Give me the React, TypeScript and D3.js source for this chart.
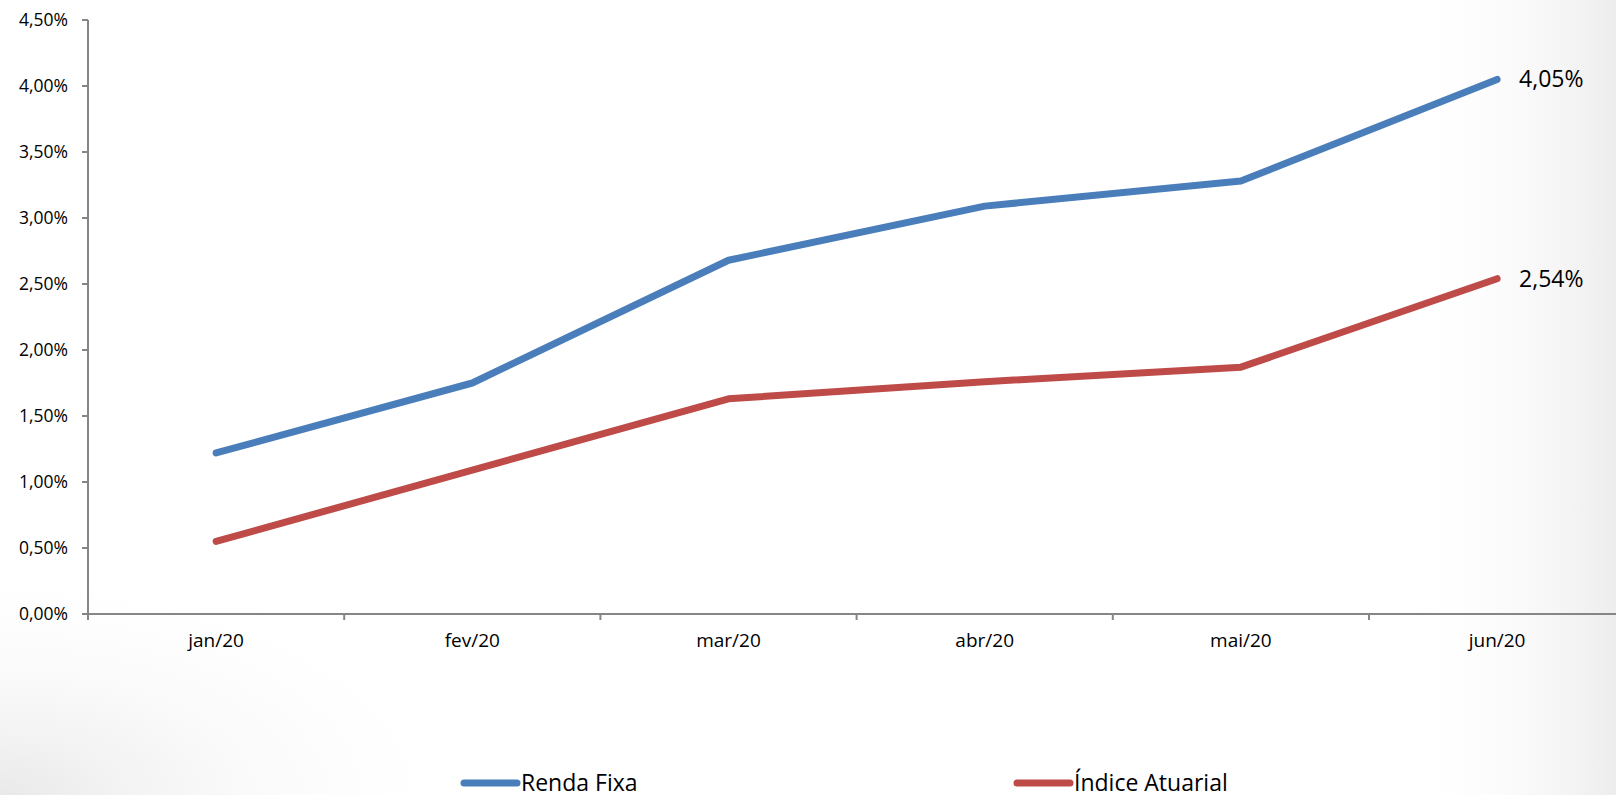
import React, { useEffect, useRef } from "react";
import * as d3 from "d3";

const months = ["jan/20", "fev/20", "mar/20", "abr/20", "mai/20", "jun/20"];
const rendaFixa = [1.22, 1.75, 2.68, 3.09, 3.28, 4.05];
const indiceAtuarial = [0.55, 1.09, 1.63, 1.76, 1.87, 2.54];
const yTicks = [0, 0.5, 1, 1.5, 2, 2.5, 3, 3.5, 4, 4.5];
const seriesNames = ["Renda Fixa", "Índice Atuarial"];
const seriesColors = ["#4a7ebb", "#be4b48"];

const W = 1616;
const H = 795;
const FONT = "'Open Sans', sans-serif";

export default function App() {
  const ref = useRef<SVGSVGElement>(null);

  useEffect(() => {
    const svg = d3.select(ref.current);
    svg.selectAll("*").remove();

    const defs = svg.append("defs");
    const g1 = defs.append("radialGradient").attr("id", "bgBL").attr("cx", 0).attr("cy", 1).attr("r", 0.3);
    g1.append("stop").attr("offset", 0).attr("stop-color", "#e9e9e9");
    g1.append("stop").attr("offset", 1).attr("stop-color", "#ffffff").attr("stop-opacity", 0);
    const g2 = defs.append("linearGradient").attr("id", "bgR").attr("x1", 0).attr("x2", 1).attr("y1", 0).attr("y2", 0);
    g2.append("stop").attr("offset", 0.87).attr("stop-color", "#ffffff").attr("stop-opacity", 0);
    g2.append("stop").attr("offset", 1).attr("stop-color", "#ededed").attr("stop-opacity", 1);

    svg.append("rect").attr("width", W).attr("height", H).attr("fill", "#ffffff");
    svg.append("rect").attr("width", W).attr("height", H).attr("fill", "url(#bgBL)");
    svg.append("rect").attr("width", W).attr("height", H).attr("fill", "url(#bgR)");

    const left = 88;
    const step = 256.2;
    const x = d3.scaleBand<string>().domain(months).range([left, left + step * months.length]);
    const y = d3.scaleLinear().domain([0, 4.5]).range([614, 20]);
    const axisColor = "#868686";

    // y axis
    const yAxis = svg.append("g");
    yAxis.append("line").attr("x1", left).attr("x2", left).attr("y1", y(4.5)).attr("y2", y(0) + 6)
      .attr("stroke", axisColor).attr("stroke-width", 2);
    yTicks.forEach((t) => {
      yAxis.append("line").attr("x1", left - 6).attr("x2", left).attr("y1", y(t)).attr("y2", y(t))
        .attr("stroke", axisColor).attr("stroke-width", 2);
      yAxis.append("text").attr("x", 68).attr("y", y(t)).attr("dy", "0.35em")
        .attr("text-anchor", "end").attr("font-family", FONT).attr("font-size", 17.5).attr("fill", "#000")
        .text(t.toFixed(2).replace(".", ",") + "%");
    });

    // x axis
    const xAxis = svg.append("g");
    xAxis.append("line").attr("x1", left).attr("x2", W).attr("y1", y(0)).attr("y2", y(0))
      .attr("stroke", axisColor).attr("stroke-width", 2);
    months.forEach((m) => {
      const bx = (x(m) as number) + x.bandwidth();
      xAxis.append("line").attr("x1", bx).attr("x2", bx).attr("y1", y(0)).attr("y2", y(0) + 6)
        .attr("stroke", axisColor).attr("stroke-width", 2);
      xAxis.append("text").attr("x", (x(m) as number) + x.bandwidth() / 2).attr("y", 647)
        .attr("text-anchor", "middle").attr("font-family", FONT).attr("font-size", 19).attr("fill", "#000")
        .text(m);
    });

    const cx = (m: string) => (x(m) as number) + x.bandwidth() / 2;
    const line = d3.line<number>().x((_, i) => cx(months[i])).y((v) => y(v));

    [rendaFixa, indiceAtuarial].forEach((s, k) => {
      svg.append("path").attr("d", line(s) as string).attr("fill", "none")
        .attr("stroke", seriesColors[k]).attr("stroke-width", 7)
        .attr("stroke-linecap", "round").attr("stroke-linejoin", "round");
      const last = s[s.length - 1];
      svg.append("text").attr("x", cx(months[months.length - 1]) + 22).attr("y", y(last)).attr("dy", "0.35em")
        .attr("font-family", FONT).attr("font-size", 23).attr("fill", "#000")
        .text(last.toFixed(2).replace(".", ",") + "%");
    });

    // legend
    const legendX = [461, 1014];
    seriesNames.forEach((n, k) => {
      svg.append("line").attr("x1", legendX[k] + 3).attr("x2", legendX[k] + 56).attr("y1", 783).attr("y2", 783)
        .attr("stroke", seriesColors[k]).attr("stroke-width", 7).attr("stroke-linecap", "round");
      svg.append("text").attr("x", legendX[k] + 60).attr("y", 791)
        .attr("font-family", FONT).attr("font-size", 23).attr("fill", "#000")
        .text(n);
    });
  }, []);

  return (
    <svg ref={ref} width={W} height={H}
      style={{ position: "absolute", left: 0, top: 0, display: "block" }} />
  );
}
